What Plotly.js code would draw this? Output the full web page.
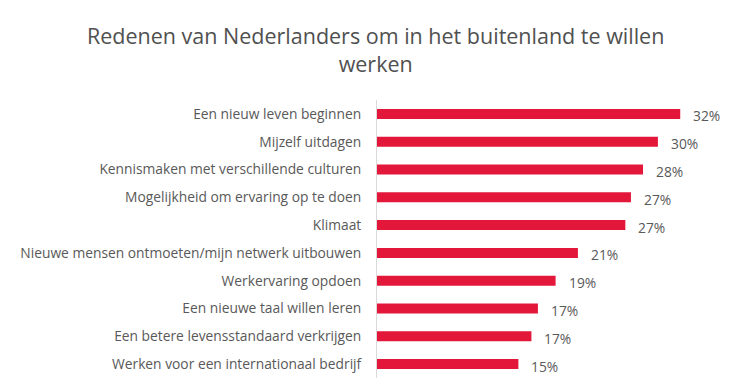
<!DOCTYPE html>
<html>
<head>
<meta charset="utf-8">
<script src="https://cdn.plot.ly/plotly-3.0.1.min.js"></script>
<style>html,body{margin:0;padding:0;background:#fff;}#chart{width:750px;height:390px;}</style>
</head>
<body>
<div id="chart"></div>
<script>
const categories = [
  "Een nieuw leven beginnen",
  "Mijzelf uitdagen",
  "Kennismaken met verschillende culturen",
  "Mogelijkheid om ervaring op te doen",
  "Klimaat",
  "Nieuwe mensen ontmoeten/mijn netwerk uitbouwen",
  "Werkervaring opdoen",
  "Een nieuwe taal willen leren",
  "Een betere levensstandaard verkrijgen",
  "Werken voor een internationaal bedrijf"
];
const values = [32.6, 30.2, 28.6, 27.3, 26.7, 21.6, 19.2, 17.3, 16.6, 15.2];
const valueLabels = ["32%", "30%", "28%", "27%", "27%", "21%", "19%", "17%", "17%", "15%"];
const titleText = "Redenen van Nederlanders om in het buitenland te willen<br>werken";

const fontFam = "Open Sans, Noto Sans, sans-serif";
const trace = {
  type: "bar",
  orientation: "h",
  y: categories,
  x: values,
  marker: {color: "#E3173A"},
  hoverinfo: "skip"
};
const annotations = categories.map((c, i) => ({
  x: values[i], y: c, xref: "x", yref: "y",
  text: valueLabels[i], showarrow: false,
  xanchor: "left", xshift: 11, yshift: -2,
  font: {family: fontFam, size: 13.8, color: "#595959"}
}));
annotations.push({
  xref: "paper", yref: "paper", x: (375 - 377) / 333, y: 1 + (100 - 19) / 278,
  xanchor: "center", yanchor: "top", showarrow: false, align: "center",
  text: titleText,
  font: {family: fontFam, size: 21.5, color: "#505050"}
});
const layout = {
  width: 750, height: 390,
  margin: {l: 377, r: 40, t: 100, b: 12},
  paper_bgcolor: "#fff", plot_bgcolor: "#fff",
  bargap: 0.64,
  showlegend: false,
  xaxis: {
    range: [0, 35.8], visible: false, fixedrange: true
  },
  yaxis: {
    autorange: "reversed",
    showline: true, linecolor: "#d9d9d9", linewidth: 1,
    ticks: "", ticklen: 0, showgrid: false, zeroline: false,
    tickfont: {family: fontFam, size: 13.8, color: "#595959"},
    ticklabelstandoff: 12
  },
  annotations: annotations
};
Plotly.newPlot("chart", [trace], layout, {displayModeBar: false, staticPlot: true});
</script>
</body>
</html>
